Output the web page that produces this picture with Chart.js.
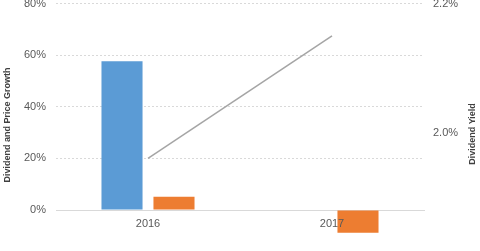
<!DOCTYPE html>
<html>
<head>
<meta charset="utf-8">
<script src="https://cdn.jsdelivr.net/npm/chart.js@4/dist/chart.umd.min.js"></script>
<style>
  html, body { margin: 0; padding: 0; background: #fff; overflow: hidden; }
  #wrap { position: absolute; left: 0; top: -13px; width: 480px; height: 264px; }
</style>
</head>
<body>
<div id="wrap"><canvas id="chart"></canvas></div>
<script>
  const years = ['2016', '2017'];
  const priceGrowth = [57.7, null];
  const dividendGrowth = [5.1, -8.8];
  const dividendYield = [1.96, 2.15];
  const growthTicks = [0, 20, 40, 60, 80];
  const yieldTicks = [2.0, 2.2];

  const font = { family: '"Liberation Sans", Arial, sans-serif', size: 11 };

  // both axis titles read bottom-to-top and sit a bit below the plot centre
  const axisTitles = {
    id: 'axisTitles',
    afterDraw(chart) {
      const area = chart.chartArea;
      const c = chart.ctx;
      const put = (text, x, y) => {
        c.save();
        c.translate(x, y);
        c.rotate(-Math.PI / 2);
        c.font = 'bold 9px ' + font.family;
        c.fillStyle = '#404040';
        c.textAlign = 'center';
        c.textBaseline = 'middle';
        c.fillText(text, 0, 0);
        c.restore();
      };
      put('Dividend and Price Growth', 8, area.bottom - 85);
      put('Dividend Yield', 473, area.bottom - 76);
    }
  };

  const ctx = document.getElementById('chart').getContext('2d');
  const chart = new Chart(ctx, {
    data: {
      labels: years,
      datasets: [
        {
          type: 'line',
          label: 'Dividend Yield',
          data: dividendYield,
          yAxisID: 'yRight',
          borderColor: '#a5a5a5',
          borderWidth: 1.5,
          pointRadius: 0,
          tension: 0,
          order: 0
        },
        {
          type: 'bar',
          label: 'Price Growth',
          data: priceGrowth,
          yAxisID: 'yLeft',
          backgroundColor: '#5b9bd5',
          borderWidth: 0,
          categoryPercentage: 0.565,
          barPercentage: 0.79,
          clip: false,
          order: 1
        },
        {
          type: 'bar',
          label: 'Dividend Growth',
          data: dividendGrowth,
          yAxisID: 'yLeft',
          backgroundColor: '#ed7d31',
          borderWidth: 0,
          categoryPercentage: 0.565,
          barPercentage: 0.79,
          clip: false,
          order: 1
        }
      ]
    },
    options: {
      responsive: true,
      maintainAspectRatio: false,
      animation: false,
      plugins: {
        legend: { display: false },
        tooltip: { enabled: false }
      },
      scales: {
        x: {
          grid: { display: false, drawTicks: false },
          border: { display: true, color: '#d9d9d9', width: 1 },
          // labels sit on top of the negative bar, as in the original
          ticks: { color: '#595959', font: font, padding: 7, z: 1 },
          afterFit: scale => { scale.height = 41; }
        },
        yLeft: {
          position: 'left',
          min: 0,
          max: 80,
          afterBuildTicks: axis => { axis.ticks = growthTicks.map(v => ({ value: v })); },
          ticks: { color: '#595959', font: font, padding: 10, callback: v => v + '%' },
          grid: {
            color: c => c.tick && c.tick.value === 0 ? 'rgba(0,0,0,0)' : '#d9d9d9',
            drawTicks: false
          },
          border: { display: false, dash: [2, 2] },
          afterFit: scale => { scale.width = 56; }
        },
        yRight: {
          position: 'right',
          min: 1.88,
          max: 2.2,
          afterBuildTicks: axis => { axis.ticks = yieldTicks.map(v => ({ value: v })); },
          ticks: { color: '#595959', font: font, padding: 9, callback: v => v.toFixed(1) + '%' },
          grid: { display: false, drawTicks: false },
          border: { display: false },
          afterFit: scale => { scale.width = 56; }
        }
      }
    },
    plugins: [axisTitles]
  });
</script>
</body>
</html>
